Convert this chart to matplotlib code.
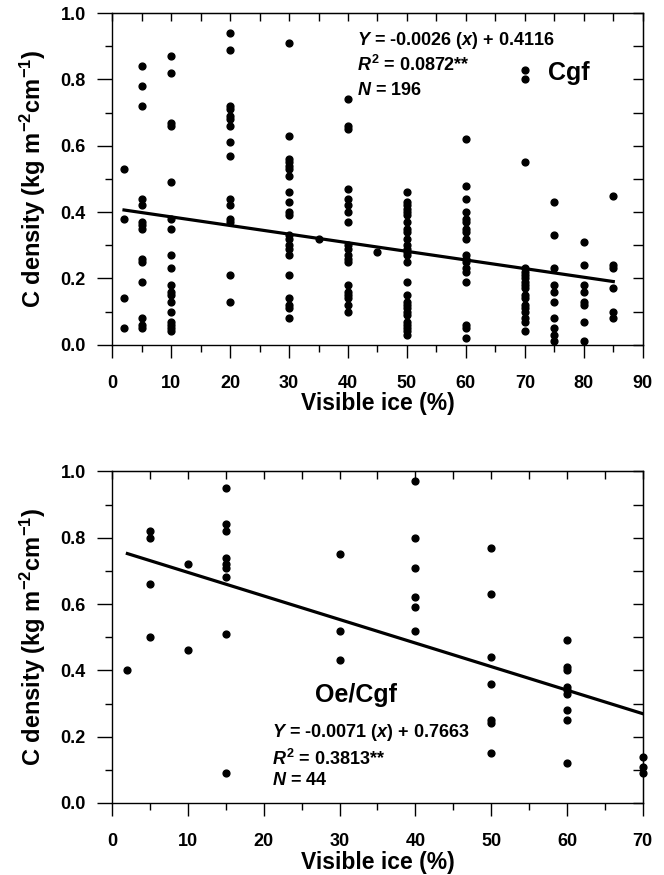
import numpy as np
import matplotlib
matplotlib.use("Agg")
import matplotlib.pyplot as plt
from matplotlib.ticker import MultipleLocator, FormatStrFormatter

plt.rcParams['font.family'] = ['Liberation Sans', 'DejaVu Sans']
plt.rcParams['font.weight'] = 'bold'
plt.rcParams['mathtext.fontset'] = 'custom'
plt.rcParams['mathtext.rm'] = 'Liberation Sans:bold'
plt.rcParams['mathtext.bf'] = 'Liberation Sans:bold'
plt.rcParams['mathtext.it'] = 'Liberation Sans:italic:bold'
plt.rcParams['mathtext.default'] = 'regular'

# --- Cgf (top panel) ---
cgf_ice = [2, 5, 10, 20, 30, 35, 40, 45, 50, 60, 70, 75, 80, 85]
cgf_density = [
    [0.53, 0.38, 0.14, 0.05],
    [0.84, 0.78, 0.72, 0.44, 0.42, 0.37, 0.36, 0.35, 0.26, 0.25, 0.19, 0.08, 0.06, 0.05],
    [0.87, 0.82, 0.67, 0.66, 0.49, 0.38, 0.35, 0.27, 0.23, 0.18, 0.16, 0.15, 0.13,
     0.10, 0.07, 0.06, 0.05, 0.04],
    [0.94, 0.89, 0.72, 0.71, 0.69, 0.68, 0.66, 0.61, 0.57, 0.44, 0.42, 0.38, 0.37, 0.21, 0.13],
    [0.91, 0.63, 0.56, 0.55, 0.54, 0.53, 0.51, 0.46, 0.43, 0.40, 0.39, 0.33, 0.32, 0.30,
     0.29, 0.27, 0.21, 0.14, 0.12, 0.11, 0.08],
    [0.32],
    [0.74, 0.66, 0.65, 0.47, 0.44, 0.42, 0.40, 0.37, 0.30, 0.29, 0.27, 0.26, 0.25, 0.18,
     0.16, 0.15, 0.14, 0.12, 0.10],
    [0.28],
    [0.46, 0.43, 0.42, 0.41, 0.40, 0.39, 0.37, 0.35, 0.34, 0.32, 0.30, 0.29, 0.28, 0.27,
     0.25, 0.19, 0.15, 0.13, 0.12, 0.11, 0.10, 0.09, 0.07, 0.06, 0.05, 0.04, 0.03],
    [0.62, 0.48, 0.44, 0.40, 0.38, 0.37, 0.35, 0.34, 0.32, 0.27, 0.26, 0.25, 0.23, 0.22,
     0.19, 0.06, 0.05, 0.02],
    [0.83, 0.80, 0.55, 0.23, 0.22, 0.21, 0.20, 0.19, 0.18, 0.17, 0.15, 0.14, 0.12, 0.11,
     0.10, 0.08, 0.07, 0.04],
    [0.43, 0.33, 0.23, 0.18, 0.16, 0.13, 0.08, 0.05, 0.03, 0.01],
    [0.31, 0.24, 0.18, 0.16, 0.13, 0.12, 0.07, 0.01],
    [0.45, 0.24, 0.23, 0.17, 0.10, 0.08],
]
cgf_slope, cgf_int = -0.0026, 0.4116
cgf_fit_range = [2, 85]

# --- Oe/Cgf (bottom panel) ---
oe_ice = [2, 5, 10, 15, 30, 40, 50, 60, 70]
oe_density = [
    [0.40],
    [0.82, 0.80, 0.66, 0.50],
    [0.72, 0.46],
    [0.95, 0.84, 0.82, 0.74, 0.72, 0.71, 0.68, 0.51, 0.09],
    [0.75, 0.52, 0.43],
    [0.97, 0.80, 0.71, 0.62, 0.59, 0.52],
    [0.77, 0.63, 0.44, 0.36, 0.25, 0.24, 0.15],
    [0.49, 0.41, 0.40, 0.35, 0.34, 0.33, 0.28, 0.25, 0.12],
    [0.14, 0.11, 0.09],
]
oe_slope, oe_int = -0.0071, 0.7663
oe_fit_range = [2, 70]


def flatten(xs, groups):
    x, y = [], []
    for xv, g in zip(xs, groups):
        x += [xv] * len(g)
        y += g
    return np.array(x), np.array(y)


def style_axes(ax, xmax):
    ax.set_xlim(0, xmax)
    ax.set_ylim(0, 1.0)
    ax.xaxis.set_major_locator(MultipleLocator(10))
    ax.xaxis.set_minor_locator(MultipleLocator(5))
    ax.yaxis.set_major_locator(MultipleLocator(0.2))
    ax.yaxis.set_minor_locator(MultipleLocator(0.1))
    ax.yaxis.set_major_formatter(FormatStrFormatter('%.1f'))
    ax.tick_params(axis='x', which='major', direction='out', length=9.5, width=1, labelsize=13, pad=12)
    ax.tick_params(axis='x', which='minor', direction='out', length=5, width=1)
    ax.tick_params(axis='y', which='major', direction='out', length=11, width=1, labelsize=13, pad=8)
    ax.tick_params(axis='y', which='minor', direction='out', length=5, width=1)
    for s in ax.spines.values():
        s.set_linewidth(1.0)
    top = ax.secondary_xaxis('top')
    top.xaxis.set_major_locator(MultipleLocator(5))
    top.tick_params(direction='in', length=5.5, width=1, labeltop=False)
    right = ax.secondary_yaxis('right')
    right.yaxis.set_major_locator(MultipleLocator(0.1))
    right.tick_params(direction='in', length=7.5, width=1, labelright=False)
    ax.set_xlabel('Visible ice (%)', fontsize=16.5, fontweight='bold', labelpad=0.5)
    ax.set_ylabel('C density (kg m$^{-2}$cm$^{-1}$)', fontsize=17, fontweight='bold', labelpad=9)


fig = plt.figure(figsize=(6.64, 8.75), dpi=100)
ax1 = fig.add_axes([0.169, 0.606, 0.799, 0.379])
ax2 = fig.add_axes([0.169, 0.0823, 0.799, 0.379])

x, y = flatten(cgf_ice, cgf_density)
ax1.scatter(x, y, s=24, color='black', zorder=3)
fx = np.array(cgf_fit_range)
ax1.plot(fx, cgf_slope * fx + cgf_int, color='black', lw=2.3)
style_axes(ax1, 90)
ax1.text(41.5, 0.916, r'$\mathit{Y}$ = -0.0026 ($\mathit{x}$) + 0.4116', fontsize=13, va='center')
ax1.text(41.5, 0.843, r'$\mathit{R}^{2}$ = 0.0872**', fontsize=13, va='center')
ax1.text(41.5, 0.768, r'$\mathit{N}$ = 196', fontsize=13, va='center')
ax1.text(73.9, 0.819, 'Cgf', fontsize=18, va='center')

x, y = flatten(oe_ice, oe_density)
ax2.scatter(x, y, s=24, color='black', zorder=3, clip_on=False)
fx = np.array(oe_fit_range)
ax2.plot(fx, oe_slope * fx + oe_int, color='black', lw=2.3)
style_axes(ax2, 70)
ax2.text(26.8, 0.325, 'Oe/Cgf', fontsize=18, va='center')
ax2.text(21.1, 0.214, r'$\mathit{Y}$ = -0.0071 ($\mathit{x}$) + 0.7663', fontsize=13, va='center')
ax2.text(21.1, 0.132, r'$\mathit{R}^{2}$ = 0.3813**', fontsize=13, va='center')
ax2.text(21.1, 0.069, r'$\mathit{N}$ = 44', fontsize=13, va='center')

fig.savefig('out.png', dpi=100)
